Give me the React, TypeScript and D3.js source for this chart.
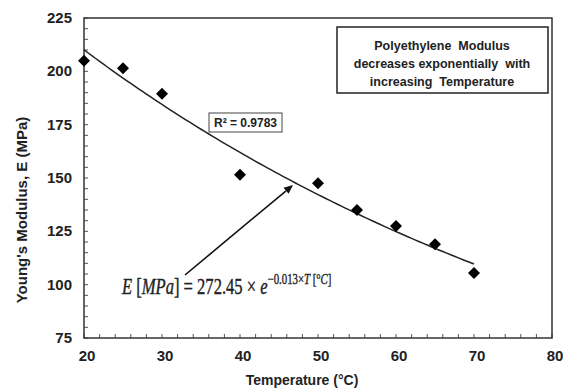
import React from "react";
import * as d3 from "d3";

const temperatures = [20, 25, 30, 40, 50, 55, 60, 65, 70];
const modulus = [205, 201.5, 189.5, 151.5, 147.5, 135, 127.5, 119, 105.5];
const xTicks = [20, 30, 40, 50, 60, 70, 80];
const yTicks = [75, 100, 125, 150, 175, 200, 225];
const fitA = 272.45;
const fitB = -0.013;
const rSquaredLabel = "R² = 0.9783";
const noteLines = ["Polyethylene  Modulus", "decreases exponentially  with", "increasing  Temperature"];

const W = 564, H = 390;
const M = { left: 84, right: 552, top: 18, bottom: 338 };

export default function App() {
  const x = d3.scaleLinear().domain([20, 80]).range([M.left, M.right]);
  const y = d3.scaleLinear().domain([75, 225]).range([M.bottom, M.top]);
  const fitT = d3.range(20, 70.01, 0.5);
  const line = d3.line<number>().x((t) => x(t)).y((t) => y(fitA * Math.exp(fitB * t)));
  const xMinor = d3.range(20, 80.01, 2);
  const yMinor = d3.range(75, 225.01, 5);
  const diamond = d3.symbol().type(d3.symbolSquare).size(72)();
  const font = "Liberation Sans, Arial, sans-serif";

  // arrow geometry
  const ax0 = 185, ay0 = 275, ax1 = 293, ay1 = 185;
  const ang = Math.atan2(ay1 - ay0, ax1 - ax0);
  const hl = 9, hw = 4;
  const bx = ax1 - hl * Math.cos(ang), by = ay1 - hl * Math.sin(ang);
  const head = `M${ax1},${ay1}L${bx + hw * Math.sin(ang)},${by - hw * Math.cos(ang)}L${bx - hw * Math.sin(ang)},${by + hw * Math.cos(ang)}Z`;

  return (
    <svg width={W} height={H} style={{ position: "absolute", left: 0, top: 0, background: "#fff" }}>
      <rect x={0} y={0} width={W} height={H} fill="#fff" />
      {/* minor ticks */}
      {xMinor.map((t) => (
        <line key={"xm" + t} x1={x(t)} x2={x(t)} y1={M.bottom} y2={M.bottom - 4} stroke="#555" strokeWidth={1} />
      ))}
      {yMinor.map((v) => (
        <line key={"ym" + v} x1={M.left} x2={M.left + 4} y1={y(v)} y2={y(v)} stroke="#555" strokeWidth={1} />
      ))}
      <rect x={M.left} y={M.top} width={M.right - M.left} height={M.bottom - M.top} fill="none" stroke="#333" strokeWidth={1.5} />
      {/* tick labels */}
      {xTicks.map((t) => (
        <text key={"xt" + t} x={x(t) + 3} y={361} textAnchor="middle" fontFamily={font} fontWeight="bold" fontSize={15} fill="#222">
          {t}
        </text>
      ))}
      {yTicks.map((v) => (
        <text key={"yt" + v} x={72} y={y(v) + 5} textAnchor="end" fontFamily={font} fontWeight="bold" fontSize={15} fill="#222">
          {v}
        </text>
      ))}
      <text x={302} y={385} textAnchor="middle" fontFamily={font} fontWeight="bold" fontSize={14} fill="#222">
        Temperature (°C)
      </text>
      <text transform={`translate(27,210) rotate(-90)`} textAnchor="middle" fontFamily={font} fontWeight="bold" fontSize={15} fill="#222">
        Young's Modulus, E (MPa)
      </text>
      {/* fit line */}
      <path d={line(fitT) || ""} fill="none" stroke="#222" strokeWidth={1.5} />
      {/* points */}
      {temperatures.map((t, i) => (
        <path key={"p" + t} d={diamond || ""} transform={`translate(${x(t)},${y(modulus[i])}) rotate(45)`} fill="#000" />
      ))}
      {/* R2 box */}
      <rect x={209} y={113} width={73} height={19} fill="#fff" stroke="#444" strokeWidth={1} />
      <text x={245.5} y={127} textAnchor="middle" fontFamily={font} fontWeight="bold" fontSize={12} fill="#222">
        {rSquaredLabel}
      </text>
      {/* note box */}
      <rect x={337} y={27} width={211} height={66} fill="#fff" stroke="#222" strokeWidth={1.5} />
      {noteLines.map((s, i) => (
        <text key={"n" + i} x={442} y={49.5 + i * 18} textAnchor="middle" fontFamily={font} fontWeight="bold" fontSize={12.5} fill="#222" xmlSpace="preserve" style={{ whiteSpace: "pre" }}>
          {s}
        </text>
      ))}
      {/* arrow */}
      <line x1={ax0} y1={ay0} x2={bx} y2={by} stroke="#111" strokeWidth={1.6} />
      <path d={head} fill="#111" />
      {/* equation */}
      <g transform="translate(122,294) scale(0.72,1)">
        <text x={0} y={0} fontFamily="Liberation Serif, DejaVu Serif, serif" fontSize={23} fill="#222" stroke="#222" strokeWidth={0.4}>
          <tspan fontStyle="italic">E</tspan>
          <tspan> [</tspan>
          <tspan fontStyle="italic">MPa</tspan>
          <tspan>] = 272.45 × </tspan>
          <tspan fontStyle="italic">e</tspan>
          <tspan fontSize={15} dy={-10}>−0.013×</tspan>
          <tspan fontSize={15} fontStyle="italic">T</tspan>
          <tspan fontSize={15}> [°</tspan>
          <tspan fontSize={15} fontStyle="italic">C</tspan>
          <tspan fontSize={15}>]</tspan>
        </text>
      </g>
    </svg>
  );
}
